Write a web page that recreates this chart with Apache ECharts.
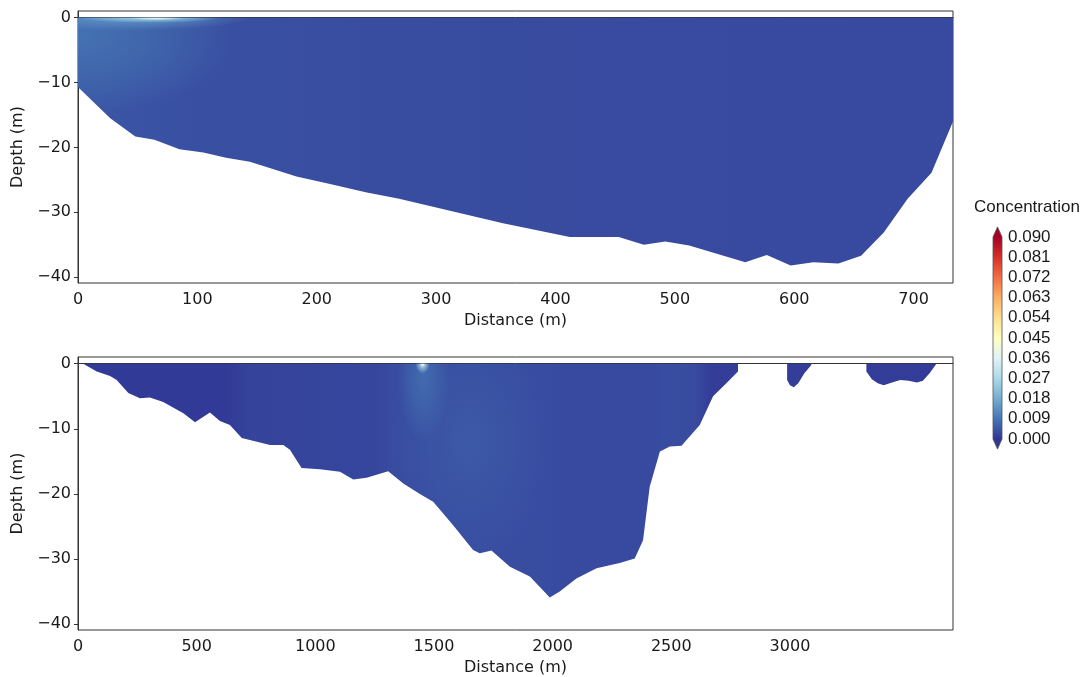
<!DOCTYPE html>
<html>
<head>
<meta charset="utf-8">
<title>Concentration sections</title>
<script src="https://cdn.jsdelivr.net/npm/echarts@6/dist/echarts.min.js"></script>
<style>
  html, body { margin: 0; padding: 0; background: #fff; }
  #chart { width: 1091px; height: 677px; }
</style>
</head>
<body>
<div id="chart"></div>
<script>
// colour scale: RdYlBu reversed, 0 .. 0.09
var cmapStops = ['#313695', '#4575b4', '#74add1', '#abd9e9', '#e0f3f8', '#ffffbf',
                 '#fee090', '#fdae61', '#f46d43', '#d73027', '#a50026'];
var concMin = 0, concMax = 0.09;
var cbarTicks = [0, 0.009, 0.018, 0.027, 0.036, 0.045, 0.054, 0.063, 0.072, 0.081, 0.09];

// axis ticks
var depthTicks = [-40, -30, -20, -10, 0];
var topTicksX = [0, 100, 200, 300, 400, 500, 600, 700];
var botTicksX = [0, 500, 1000, 1500, 2000, 2500, 3000];

// ---- section 1 (upper panel) ----
// water body outline: surface -> bed -> surface (m)
var topBodyDist  = [0, 0, 27, 48, 64, 85, 105, 124, 144, 183, 213, 241, 269, 356, 412, 453, 474, 492, 512, 559, 577, 597, 616, 637, 656, 675, 695, 715, 733, 733];
var topBodyDepth = [0, -10.7, -15.5, -18.3, -18.8, -20.3, -20.8, -21.6, -22.2, -24.5, -25.7, -26.9, -27.9, -31.7, -33.8, -33.8, -35.0, -34.5, -35.1, -37.7, -36.6, -38.2, -37.7, -37.9, -36.7, -33.1, -27.9, -23.9, -16.0, 0];
// background concentration along the section
var topBandDist = [0, 100, 250, 400, 733];
var topBandConc = [0.0045, 0.0037, 0.0033, 0.003, 0.0028];
// plume patches: centre, half width / half height (m), peak concentration
var topPatchDist  = [0, 40, 60, 66];
var topPatchDepth = [-3, 0, 0, 0];
var topPatchHalfW = [130, 105, 60, 22];
var topPatchHalfH = [12, 2.0, 0.8, 0.45];
var topPatchConc  = [0.0085, 0.014, 0.026, 0.038];

// ---- section 2 (lower panel) ----
var botMainDist  = [22, 79, 135, 163, 212, 261, 303, 359, 444, 493, 556, 598, 640, 690, 767, 809, 865, 893, 942, 1019, 1104, 1160, 1216, 1307, 1371, 1441, 1497, 1581, 1665, 1693, 1742, 1820, 1904, 1988, 2030, 2100, 2185, 2283, 2346, 2381, 2409, 2452, 2494, 2543, 2620, 2676, 2732, 2781, 2781];
var botMainDepth = [0, -1.2, -1.9, -2.5, -4.5, -5.3, -5.2, -5.9, -7.6, -9.0, -7.5, -8.8, -9.4, -11.4, -12.1, -12.5, -12.5, -13.2, -16.0, -16.2, -16.6, -17.8, -17.5, -16.5, -18.4, -20.0, -21.2, -24.8, -28.6, -29.1, -28.7, -31.2, -32.7, -35.9, -35.0, -33.0, -31.4, -30.6, -29.9, -27.1, -18.9, -13.5, -12.7, -12.6, -9.4, -5.0, -3.0, -1.2, 0];
var botIslandADist  = [2988, 2988, 3000, 3016, 3035, 3060, 3090, 3090];
var botIslandADepth = [0, -2.5, -3.3, -3.6, -3.0, -1.5, -0.2, 0];
var botIslandBDist  = [3322, 3322, 3345, 3370, 3395, 3430, 3465, 3500, 3535, 3560, 3590, 3617];
var botIslandBDepth = [0, -1.2, -2.4, -3.0, -3.3, -2.9, -2.5, -2.6, -2.9, -2.6, -1.4, 0];
var botBandDist = [0, 620, 720, 1250, 1330, 1990, 2050, 2420, 2480, 2600, 2660, 3687];
var botBandConc = [0.0006, 0.0006, 0.0018, 0.0022, 0.0032, 0.0032, 0.0028, 0.0028, 0.0033, 0.003, 0.0012, 0.0008];
var botPatchDist  = [1650, 1455, 1452, 1452];
var botPatchDepth = [-12, -2, 0, 0];
var botPatchHalfW = [340, 110, 30, 12];
var botPatchHalfH = [20, 10, 1.5, 0.6];
var botPatchConc  = [0.005, 0.0075, 0.03, 0.04];

var chart = echarts.init(document.getElementById('chart'));

function rgbOf(hex) {
  return [1, 3, 5].map(function (i) { return parseInt(hex.substr(i, 2), 16); });
}
function concColor(c, alpha) {
  var n = cmapStops.length - 1;
  var t = Math.max(0, Math.min(1, (c - concMin) / (concMax - concMin))) * n;
  var i = Math.min(Math.floor(t), n - 1), f = t - i;
  var a = rgbOf(cmapStops[i]), b = rgbOf(cmapStops[i + 1]);
  var rgb = a.map(function (v, k) { return Math.round(v + (b[k] - v) * f); });
  return 'rgba(' + rgb.join(',') + ',' + (alpha == null ? 1 : alpha) + ')';
}

function sectionItem(bodies, bandDist, bandConc, patches) {
  return function (params, api) {
    var body = bodies[params.dataIndex];
    var pts = body.dist.map(function (d, k) { return api.coord([d, body.depth[k]]); });
    var cs = params.coordSys;
    var last = bandDist.length - 1;
    var xa = api.coord([bandDist[0], 0])[0];
    var xb = api.coord([bandDist[last], 0])[0];
    var span = bandDist[last] - bandDist[0];
    var stops = bandDist.map(function (d, k) {
      return { offset: (d - bandDist[0]) / span, color: concColor(bandConc[k]) };
    });
    var children = [{
      type: 'rect',
      shape: { x: xa, y: cs.y, width: xb - xa, height: cs.height },
      style: { fill: new echarts.graphic.LinearGradient(0, 0, 1, 0, stops) }
    }];
    patches.dist.forEach(function (d, k) {
      var c = api.coord([d, patches.depth[k]]);
      var rx = api.coord([d + patches.halfW[k], 0])[0] - api.coord([d, 0])[0];
      var ry = api.coord([d, patches.depth[k] - patches.halfH[k]])[1] - c[1];
      var peak = patches.conc[k];
      children.push({
        type: 'circle',
        x: c[0], y: c[1], scaleX: rx / 50, scaleY: ry / 50,
        shape: { cx: 0, cy: 0, r: 50 },
        style: {
          fill: new echarts.graphic.RadialGradient(0.5, 0.5, 0.5, [
            { offset: 0, color: concColor(peak, 1) },
            { offset: 0.45, color: concColor(peak, 0.6) },
            { offset: 1, color: concColor(peak, 0) }
          ])
        }
      });
    });
    return {
      type: 'group',
      clipPath: { type: 'polygon', shape: { points: pts } },
      children: children
    };
  };
}

var topBodies = [{ dist: topBodyDist, depth: topBodyDepth }];
var botBodies = [
  { dist: botMainDist, depth: botMainDepth },
  { dist: botIslandADist, depth: botIslandADepth },
  { dist: botIslandBDist, depth: botIslandBDepth }
];
var topPatches = { dist: topPatchDist, depth: topPatchDepth, halfW: topPatchHalfW, halfH: topPatchHalfH, conc: topPatchConc };
var botPatches = { dist: botPatchDist, depth: botPatchDepth, halfW: botPatchHalfW, halfH: botPatchHalfH, conc: botPatchConc };

var axisFont = 'DejaVu Sans';
var lineCol = '#333';
var textCol = '#1a1a1a';

function distAxis(grid, max, ticks) {
  return {
    gridIndex: grid, type: 'value', min: 0, max: max,
    name: 'Distance (m)', nameLocation: 'middle', nameGap: 30,
    nameTextStyle: { fontFamily: axisFont, fontSize: 16, color: textCol },
    axisLine: { show: true, lineStyle: { color: lineCol, width: 1 } },
    axisTick: { show: true, length: 4, customValues: ticks, lineStyle: { color: lineCol } },
    axisLabel: {
      customValues: ticks, fontFamily: axisFont, fontSize: 16, color: textCol, margin: 9,
      formatter: function (v) { return String(v); }
    },
    splitLine: { show: false }
  };
}
function depthAxis(grid) {
  return {
    gridIndex: grid, type: 'value', min: -40.9, max: 1.03,
    name: 'Depth (m)', nameLocation: 'middle', nameGap: 52, nameRotate: 90,
    nameTextStyle: { fontFamily: axisFont, fontSize: 16, color: textCol },
    axisLine: { show: true, onZero: false, lineStyle: { color: lineCol, width: 1 } },
    axisTick: { show: true, length: 4, customValues: depthTicks, lineStyle: { color: lineCol } },
    axisLabel: {
      customValues: depthTicks, fontFamily: axisFont, fontSize: 16, color: textCol, margin: 7,
      formatter: function (v) { return String(v).replace('-', '\u2212'); }
    },
    splitLine: { show: false }
  };
}

chart.setOption({
  backgroundColor: '#fff',
  animation: false,
  title: {
    text: 'Concentration', left: 974, top: 199, padding: 0,
    textStyle: { fontFamily: 'Liberation Sans', fontSize: 17, fontWeight: 'normal', color: textCol }
  },
  grid: [
    { left: 78, top: 11, width: 875, height: 272, show: true, borderColor: lineCol, borderWidth: 1, backgroundColor: 'transparent' },
    { left: 78, top: 357, width: 875, height: 273, show: true, borderColor: lineCol, borderWidth: 1, backgroundColor: 'transparent' },
    { left: 993, top: 237, width: 9, height: 202 }
  ],
  xAxis: [
    distAxis(0, 733, topTicksX),
    distAxis(1, 3687, botTicksX),
    { gridIndex: 2, type: 'value', min: 0, max: 1, show: false }
  ],
  yAxis: [
    depthAxis(0),
    depthAxis(1),
    {
      gridIndex: 2, type: 'value', position: 'right', min: concMin, max: concMax,
      axisLine: { show: false },
      axisTick: { show: true, length: 4, customValues: cbarTicks, lineStyle: { color: lineCol } },
      axisLabel: {
        customValues: cbarTicks, fontFamily: 'Liberation Sans', fontSize: 17, color: textCol, margin: 6,
        formatter: function (v) { return v.toFixed(3); }
      },
      splitLine: { show: false }
    }
  ],
  series: [
    {
      type: 'custom', xAxisIndex: 0, yAxisIndex: 0, clip: true, silent: true,
      data: topBodies.map(function () { return [0, 0]; }),
      renderItem: sectionItem(topBodies, topBandDist, topBandConc, topPatches)
    },
    {
      type: 'custom', xAxisIndex: 1, yAxisIndex: 1, clip: true, silent: true,
      data: botBodies.map(function () { return [0, 0]; }),
      renderItem: sectionItem(botBodies, botBandDist, botBandConc, botPatches)
    },
    {
      // colour bar with extension triangles at both ends
      type: 'custom', xAxisIndex: 2, yAxisIndex: 2, silent: true,
      data: [[0.5, concMax / 2]],
      renderItem: function (params, api) {
        var lo = api.coord([0, concMin]), hi = api.coord([1, concMax]);
        var x0 = lo[0], x1 = hi[0], yb = lo[1], yt = hi[1];
        var ext = (yb - yt) * 0.05, xm = (x0 + x1) / 2;
        var stops = cmapStops.map(function (c, k) { return { offset: k / (cmapStops.length - 1), color: c }; });
        return {
          type: 'group',
          children: [
            { type: 'rect', shape: { x: x0, y: yt, width: x1 - x0, height: yb - yt },
              style: { fill: new echarts.graphic.LinearGradient(0, 1, 0, 0, stops) } },
            { type: 'polygon', shape: { points: [[x0, yt], [x1, yt], [xm, yt - ext]] },
              style: { fill: concColor(concMax) } },
            { type: 'polygon', shape: { points: [[x0, yb], [x1, yb], [xm, yb + ext]] },
              style: { fill: concColor(concMin) } },
            { type: 'polygon',
              shape: { points: [[xm, yt - ext], [x1, yt], [x1, yb], [xm, yb + ext], [x0, yb], [x0, yt]] },
              style: { fill: 'none', stroke: '#555', lineWidth: 0.8 } }
          ]
        };
      }
    }
  ]
});
</script>
</body>
</html>
